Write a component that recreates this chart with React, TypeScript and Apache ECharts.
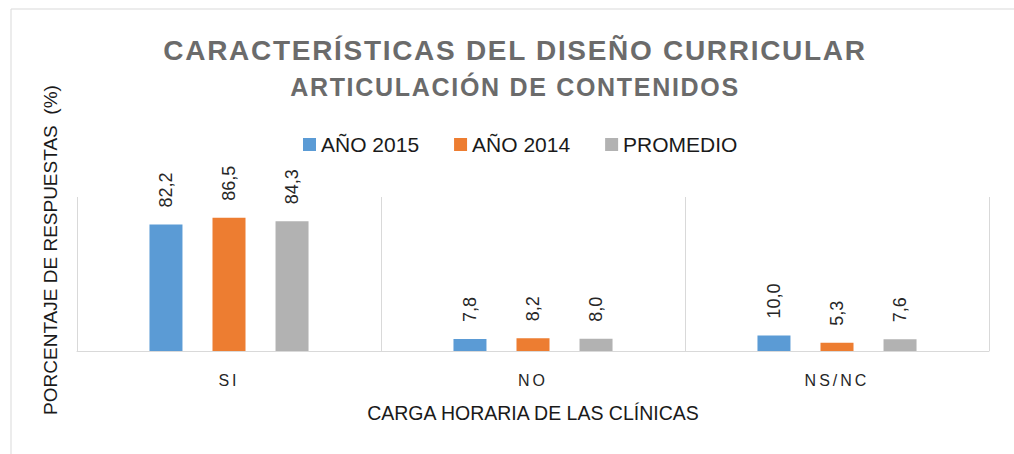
import React, { useEffect, useRef } from "react";
import * as echarts from "echarts";

const categories = ["SI", "NO", "NS/NC"];
const seriesNames = ["AÑO 2015", "AÑO 2014", "PROMEDIO"];
const anio2015 = [82.2, 7.8, 10.0];
const anio2014 = [86.5, 8.2, 5.3];
const promedio = [84.3, 8.0, 7.6];
const colors = ["#5B9BD5", "#ED7D31", "#B2B2B2"];
const titleLine1 = "CARACTERÍSTICAS DEL DISEÑO CURRICULAR";
const titleLine2 = "ARTICULACIÓN DE CONTENIDOS";
const yTitle = "PORCENTAJE DE RESPUESTAS  (%)";
const xTitle = "CARGA HORARIA DE LAS CLÍNICAS";

const TITLE_FONT = "'Liberation Sans', 'Arial Narrow', sans-serif";
const CAT_FONT = "'Liberation Sans', 'Nimbus Sans Narrow', sans-serif";
const NAME_FONT = "'Liberation Sans', sans-serif";

export default function App() {
  const ref = useRef<HTMLDivElement>(null);
  useEffect(() => {
    if (!ref.current) return;
    const chart = echarts.init(ref.current, null, { renderer: "svg" });
    const dataSets = [anio2015, anio2014, promedio];
    chart.setOption({
      animation: false,
      backgroundColor: "#ffffff",
      grid: { left: 77, right: 25, top: 197, bottom: 103 },
      legend: {
        left: 303,
        top: 134,
        padding: 0,
        itemWidth: 13,
        itemHeight: 13,
        itemGap: 35,
        icon: "rect",
        textStyle: { fontSize: 21, color: "#1a1a1a", fontFamily: "'Liberation Sans', Arial, sans-serif" },
        data: seriesNames,
      },
      xAxis: {
        type: "category",
        data: categories,
        axisLine: { lineStyle: { color: "#d9d9d9", width: 1 } },
        axisTick: { show: false },
        splitLine: { show: true, lineStyle: { color: "#d9d9d9", width: 1 } },
        axisLabel: { margin: 21, fontSize: 16, color: "#262626", fontFamily: CAT_FONT },
        name: xTitle,
        nameLocation: "middle",
        nameGap: 52,
        nameTextStyle: { fontSize: 19.5, color: "#1a1a1a", fontFamily: NAME_FONT },
      },
      yAxis: {
        type: "value",
        min: 0,
        max: 100,
        show: false,
        splitLine: { show: false },
      },
      graphic: [
        {
          type: "rect",
          shape: { x: 11, y: 9, width: 1100, height: 600 },
          style: { fill: "none", stroke: "#d9d9d9", lineWidth: 1 },
          silent: true,
        },
        {
          type: "text",
          x: 515,
          y: 50,
          style: {
            text: titleLine1,
            textAlign: "center",
            textVerticalAlign: "middle",
            fontSize: 28,
            fontWeight: "bold",
            fontFamily: TITLE_FONT,
            fill: "#6b6b6b",
          },
        },
        {
          type: "text",
          x: 515,
          y: 87,
          style: {
            text: titleLine2,
            textAlign: "center",
            textVerticalAlign: "middle",
            fontSize: 25,
            fontWeight: "bold",
            fontFamily: TITLE_FONT,
            fill: "#6b6b6b",
          },
        },
        {
          type: "text",
          x: 50,
          y: 250,
          rotation: Math.PI / 2,
          style: {
            text: yTitle,
            textAlign: "center",
            textVerticalAlign: "middle",
            fontSize: 19,
            fontFamily: "'Liberation Sans', Arial, sans-serif",
            fill: "#1a1a1a",
          },
        },
      ],
      series: seriesNames.map((name, i) => ({
        name,
        type: "bar",
        data: dataSets[i],
        barWidth: 33,
        barGap: "91%",
        itemStyle: { color: colors[i] },
        label: {
          show: true,
          position: "top",
          rotate: 90,
          align: "left",
          verticalAlign: "middle",
          distance: 17,
          fontSize: 18,
          color: "#262626",
          fontFamily: "'Liberation Sans', Arial, sans-serif",
          formatter: (p: any) => Number(p.value).toFixed(1).replace(".", ","),
        },
      })),
    });
    return () => chart.dispose();
  }, []);
  return (
    <>
      <style>{`
        body { margin: 0; }
        .chartbox text[style*="Arial Narrow"] { letter-spacing: 1.7px; }
        .chartbox text[style*="Nimbus"] { letter-spacing: 3px; }
      `}</style>
      <div
        ref={ref}
        className="chartbox"
        style={{ position: "absolute", left: 0, top: 0, width: 1014, height: 454 }}
      />
    </>
  );
}
